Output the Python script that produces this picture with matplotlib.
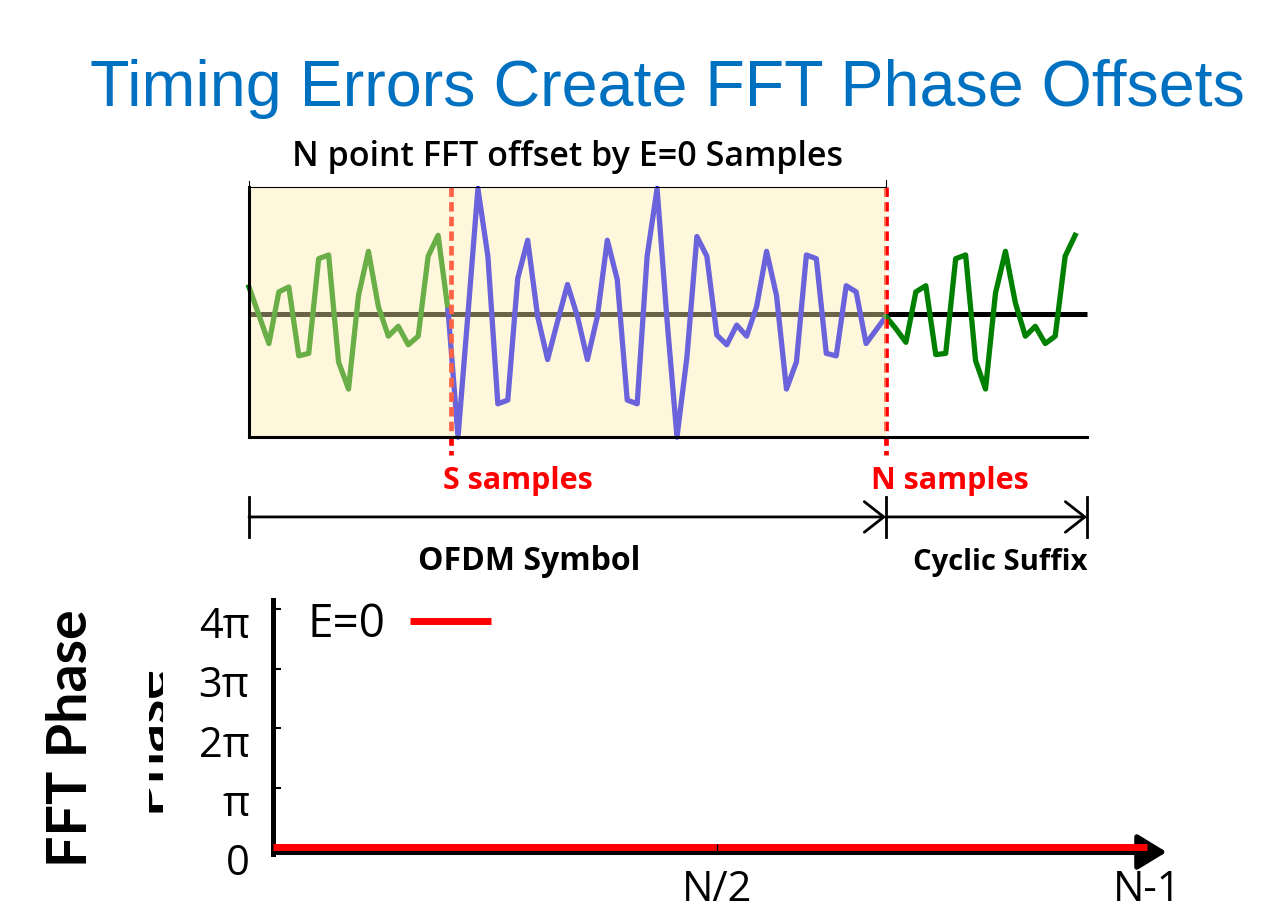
import numpy as np
import matplotlib
matplotlib.use('Agg')
import matplotlib.pyplot as plt
from matplotlib.patches import Rectangle
from matplotlib.transforms import ScaledTranslation

# ---- values ----
N_FFT = 64
S_START = 20          # first sample of the blue part

# green part of the symbol, samples 0..20
head_vals = [0.22, -0.01, -0.24, 0.18, 0.22, -0.34, -0.32, 0.45, 0.48, -0.39,
             -0.61, 0.15, 0.51, 0.06, -0.18, -0.10, -0.25, -0.18, 0.47, 0.64, 0.03]
# blue part of the symbol, samples 20..64
body_vals = [0.03, -1.0, 0.0, 1.02, 0.47, -0.73, -0.70, 0.29, 0.60, -0.02,
             -0.37, -0.06, 0.24, -0.02, -0.37, -0.02, 0.60, 0.28, -0.70, -0.73,
             0.47, 1.02, -0.05, -1.0, -0.35, 0.63, 0.47, -0.17, -0.25, -0.09,
             -0.18, 0.06, 0.51, 0.15, -0.61, -0.39, 0.48, 0.45, -0.32, -0.34,
             0.23, 0.18, -0.24, -0.13, -0.02]
# cyclic suffix after sample N
suffix_vals = [-0.02, -0.12, -0.23, 0.18, 0.23, -0.33, -0.32, 0.45, 0.48, -0.38,
               -0.61, 0.17, 0.51, 0.09, -0.18, -0.10, -0.24, -0.18, 0.47, 0.64]

# FFT phase for E=0 (flat)
phase_bins = [0, 63]
phase_e0 = [0.0, 0.0]

ytick_vals = [0, np.pi, 2 * np.pi, 3 * np.pi, 4 * np.pi]
ytick_labels = ['0', 'π', '2π', '3π', '4π']

W, H = 1280, 923


def fx(px):
    return px / W


def fy(py):
    return 1 - py / H


plt.rcParams['font.family'] = ['Open Sans', 'DejaVu Sans']

fig = plt.figure(figsize=(W / 100, H / 100), dpi=100)
fig.patch.set_facecolor('white')

fig.text(fx(667), fy(106), 'Timing Errors Create FFT Phase Offsets',
         ha='center', va='baseline', fontsize=46.5, color='#0070c0',
         family=['Liberation Sans', 'DejaVu Sans'])

# ---------------- time-domain sketch ----------------
ax = fig.add_axes([fx(200), fy(590), (1120 - 200) / W, (590 - 140) / H])
ax.set_xlim(-4.923, 87.51)
ax.set_ylim(-2.244, 1.415)
ax.axis('off')

box_top, box_bot = 1.0325, -1.0
line_end = 84.2

k_head = np.arange(0, S_START + 1)
k_body = np.arange(S_START, N_FFT + 1)
k_suffix = N_FFT + np.arange(len(suffix_vals))

ax.plot([0, line_end], [0, 0], color='black', lw=3.6, zorder=2, solid_capstyle='butt')
ax.plot(k_head, head_vals, color='green', lw=3.8, zorder=3)
ax.plot(k_body, body_vals, color='blue', lw=3.8, zorder=3)
ax.plot(k_suffix, suffix_vals, color='green', lw=3.8, zorder=3)

dash = (0, (2.0, 1.1))
ax.plot([S_START + 0.3, S_START + 0.3], [box_top, -1.15], color='red', lw=3.4,
        linestyle=dash, zorder=3)
ax.plot([N_FFT, N_FFT], [box_top, -1.15], color='red', lw=3.4,
        linestyle=dash, zorder=3)

# translucent yellow FFT window laid over everything
ax.add_patch(Rectangle((0, box_bot), N_FFT, box_top - box_bot,
                       facecolor='#ffeeab', alpha=0.42, edgecolor='none', zorder=5))
ax.plot([0, 0], [box_bot, box_top], color='black', lw=2.2, zorder=6)
ax.plot([0, line_end], [box_bot, box_bot], color='black', lw=2.2, zorder=6)
ax.plot([0, 0, N_FFT, N_FFT], [box_top + 0.05, box_top, box_top, box_top + 0.06],
        color='black', lw=0.8, zorder=6)

ax.text(32, 1.2, 'N point FFT offset by E=0 Samples', ha='center', va='baseline',
        fontsize=24.5, fontweight='semibold')
ax.text(27.0, -1.42, 'S samples', ha='center', va='baseline', fontsize=22,
        fontweight='bold', color='red')
ax.text(70.4, -1.42, 'N samples', ha='center', va='baseline', fontsize=22,
        fontweight='bold', color='red')

arrow_y = -1.65
for k0, k1 in [(0, N_FFT), (N_FFT, line_end)]:
    ax.annotate('', xy=(k1, arrow_y), xytext=(k0, arrow_y),
                arrowprops=dict(arrowstyle='->,head_length=0.7,head_width=0.55',
                                mutation_scale=20, lw=2.0, color='black',
                                shrinkA=0, shrinkB=0))
for kb in [0, N_FFT, line_end]:
    ax.plot([kb, kb], [-1.49, -1.81], color='black', lw=2.0)

ax.text(28.2, -2.08, 'OFDM Symbol', ha='center', va='baseline', fontsize=23,
        fontweight='bold')
ax.text(75.5, -2.08, 'Cyclic Suffix', ha='center', va='baseline', fontsize=21,
        fontweight='bold')

# ---------------- FFT phase plot ----------------
ax2 = fig.add_axes([fx(273), fy(860), (1170 - 273) / W, (860 - 598) / H])
ax2.set_xlim(0, 64.65)
ax2.set_ylim(-0.2185 * np.pi, 4.185 * np.pi)
axis_y = -0.084 * np.pi

for side in ['top', 'right']:
    ax2.spines[side].set_visible(False)
ax2.spines['left'].set_linewidth(3.6)
ax2.spines['left'].set_bounds(axis_y - 0.04 * np.pi, 4.15 * np.pi)
ax2.spines['bottom'].set_position(('data', axis_y))
ax2.spines['bottom'].set_linewidth(3.6)
ax2.spines['bottom'].set_bounds(0, 63)
ax2.annotate('', xy=(64.4, axis_y), xytext=(61.5, axis_y),
             arrowprops=dict(arrowstyle='-|>,head_length=0.9,head_width=0.55',
                             mutation_scale=20, lw=3.6, color='black',
                             shrinkA=0, shrinkB=0), annotation_clip=False)

ax2.plot(phase_bins, phase_e0, color='red', lw=5, label='E=0',
         solid_capstyle='butt', zorder=3, clip_on=False)

ax2.set_yticks(ytick_vals, ytick_labels)
ax2.tick_params(axis='y', direction='in', length=6, width=1.5, pad=17, labelsize=30)
ax2.set_xticks([N_FFT // 2], ['N/2'])
ax2.set_xticks([N_FFT - 1], ['N-1'], minor=True)
ax2.tick_params(axis='x', which='major', direction='in', length=6, width=1.0,
                pad=12, labelsize=30)
ax2.tick_params(axis='x', which='minor', length=0, pad=12, labelsize=30)
ax2.xaxis.set_zorder(4)
for lab in ax2.get_yticklabels():
    lab.set_transform(lab.get_transform() + ScaledTranslation(0, -9 / 72, fig.dpi_scale_trans))

ax2.legend(loc='upper left', bbox_to_anchor=(0.038, 0.985), markerfirst=False,
           frameon=False, fontsize=33, handlelength=1.75, handletextpad=0.55,
           borderaxespad=0, borderpad=0)

fig.text(fx(87), fy(738), 'FFT Phase', rotation=90, rotation_mode='anchor',
         ha='center', va='baseline', fontsize=40, fontweight='bold',
         family=['Lato', 'DejaVu Sans'])

# cut-off copy of the axis title left over from the source slide
ax_g = fig.add_axes([fx(149), fy(830), 14 / W, 200 / H])
ax_g.axis('off')
ax_g.text(1.0, 0.46, 'Phase', rotation=90, rotation_mode='anchor', ha='center',
          va='baseline', fontsize=40, fontweight='bold', transform=ax_g.transAxes,
          clip_on=True, family=['Lato', 'DejaVu Sans'])

fig.savefig('out.png', dpi=100)
